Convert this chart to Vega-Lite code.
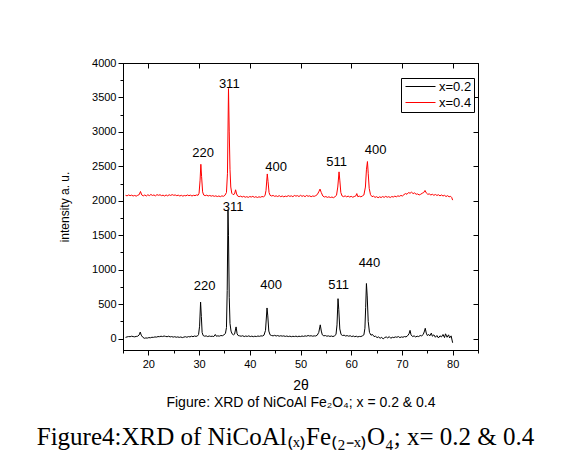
{
"$schema": "https://vega.github.io/schema/vega-lite/v6.json",
"width": 355, "height": 287,
"autosize": {"type": "none"},
"padding": {"left": 123, "top": 63, "right": 92, "bottom": 122},
"background": "white",
"config": {
 "view": {"stroke": "black", "strokeWidth": 1},
 "font": "Liberation Sans",
 "axis": {"grid": false, "domainColor": "black", "tickColor": "black", "labelColor": "black", "titleColor": "black", "labelFont": "Liberation Sans", "titleFont": "Liberation Sans", "labelFontSize": 11, "titleFontWeight": "normal", "domainWidth": 1, "tickWidth": 1}
},
"title": {"text": "Figure4:XRD of NiCoAl₍ₓ₎Fe₍₂₋ₓ₎O₄;  x= 0.2 & 0.4", "orient": "bottom", "anchor": "middle", "font": "Liberation Serif", "fontSize": 25, "fontWeight": "normal", "color": "black", "offset": 16, "dx": -15},
"datasets": {
 "a": [
  {"t":15.5,"i":18},{"t":15.8,"i":25},{"t":16.1,"i":30},{"t":16.4,"i":28},{"t":16.7,"i":35},{"t":17.0,"i":30},{"t":17.3,"i":26},{"t":17.6,"i":32},{"t":17.9,"i":35},{"t":18.2,"i":55},{"t":18.4,"i":95},{"t":18.6,"i":50},{"t":18.9,"i":20},{"t":19.2,"i":5},{"t":19.5,"i":10},{"t":19.8,"i":8},{"t":20.1,"i":15},{"t":20.4,"i":12},{"t":20.7,"i":20},{"t":21.0,"i":18},{"t":21.3,"i":25},{"t":21.6,"i":22},{"t":21.9,"i":30},{"t":22.2,"i":28},{"t":22.5,"i":35},{"t":22.8,"i":30},{"t":23.1,"i":38},{"t":23.4,"i":32},{"t":23.7,"i":28},{"t":24.0,"i":35},{"t":24.3,"i":25},{"t":24.6,"i":30},{"t":24.9,"i":22},{"t":25.2,"i":28},{"t":25.5,"i":20},{"t":25.8,"i":25},{"t":26.1,"i":18},{"t":26.4,"i":24},{"t":26.7,"i":15},{"t":27.0,"i":22},{"t":27.3,"i":28},{"t":27.6,"i":20},{"t":27.9,"i":30},{"t":28.2,"i":25},{"t":28.5,"i":35},{"t":28.8,"i":28},{"t":29.1,"i":38},{"t":29.4,"i":32},{"t":29.7,"i":40},{"t":29.9,"i":60},{"t":30.1,"i":180},{"t":30.3,"i":530},{"t":30.45,"i":320},{"t":30.6,"i":90},{"t":30.8,"i":45},{"t":31.1,"i":35},{"t":31.4,"i":40},{"t":31.7,"i":30},{"t":32.0,"i":38},{"t":32.3,"i":32},{"t":32.6,"i":35},{"t":32.9,"i":30},{"t":33.2,"i":60},{"t":33.4,"i":35},{"t":33.7,"i":40},{"t":34.0,"i":36},{"t":34.3,"i":45},{"t":34.6,"i":42},{"t":34.9,"i":55},{"t":35.2,"i":75},{"t":35.4,"i":160},{"t":35.55,"i":700},{"t":35.7,"i":1870},{"t":35.8,"i":1500},{"t":35.95,"i":600},{"t":36.1,"i":220},{"t":36.3,"i":110},{"t":36.5,"i":70},{"t":36.8,"i":55},{"t":37.0,"i":65},{"t":37.3,"i":170},{"t":37.5,"i":70},{"t":37.7,"i":45},{"t":38.0,"i":40},{"t":38.3,"i":35},{"t":38.6,"i":42},{"t":38.9,"i":30},{"t":39.2,"i":38},{"t":39.5,"i":32},{"t":39.8,"i":40},{"t":40.1,"i":30},{"t":40.4,"i":36},{"t":40.7,"i":28},{"t":41.0,"i":35},{"t":41.3,"i":30},{"t":41.6,"i":38},{"t":41.9,"i":33},{"t":42.2,"i":40},{"t":42.5,"i":38},{"t":42.8,"i":50},{"t":43.1,"i":120},{"t":43.4,"i":445},{"t":43.55,"i":330},{"t":43.75,"i":110},{"t":44.0,"i":55},{"t":44.3,"i":45},{"t":44.6,"i":40},{"t":44.9,"i":48},{"t":45.2,"i":38},{"t":45.5,"i":45},{"t":45.8,"i":35},{"t":46.1,"i":42},{"t":46.4,"i":36},{"t":46.7,"i":40},{"t":47.0,"i":32},{"t":47.3,"i":38},{"t":47.6,"i":30},{"t":47.9,"i":36},{"t":48.2,"i":28},{"t":48.5,"i":34},{"t":48.8,"i":30},{"t":49.1,"i":36},{"t":49.4,"i":28},{"t":49.7,"i":35},{"t":50.0,"i":30},{"t":50.3,"i":38},{"t":50.6,"i":32},{"t":50.9,"i":40},{"t":51.2,"i":35},{"t":51.5,"i":45},{"t":51.8,"i":38},{"t":52.1,"i":42},{"t":52.4,"i":35},{"t":52.7,"i":40},{"t":53.0,"i":38},{"t":53.3,"i":50},{"t":53.6,"i":90},{"t":53.9,"i":200},{"t":54.1,"i":110},{"t":54.3,"i":55},{"t":54.6,"i":40},{"t":54.9,"i":45},{"t":55.2,"i":35},{"t":55.5,"i":40},{"t":55.8,"i":32},{"t":56.1,"i":38},{"t":56.4,"i":30},{"t":56.7,"i":40},{"t":57.0,"i":60},{"t":57.2,"i":200},{"t":57.4,"i":580},{"t":57.55,"i":420},{"t":57.75,"i":140},{"t":58.0,"i":60},{"t":58.3,"i":45},{"t":58.6,"i":50},{"t":58.9,"i":38},{"t":59.2,"i":44},{"t":59.5,"i":35},{"t":59.8,"i":42},{"t":60.1,"i":30},{"t":60.4,"i":38},{"t":60.7,"i":28},{"t":61.0,"i":35},{"t":61.3,"i":25},{"t":61.6,"i":32},{"t":61.9,"i":30},{"t":62.2,"i":40},{"t":62.5,"i":55},{"t":62.7,"i":150},{"t":62.85,"i":450},{"t":63.0,"i":800},{"t":63.15,"i":620},{"t":63.35,"i":250},{"t":63.6,"i":90},{"t":63.9,"i":50},{"t":64.2,"i":60},{"t":64.5,"i":30},{"t":64.8,"i":35},{"t":65.1,"i":15},{"t":65.4,"i":25},{"t":65.7,"i":5},{"t":66.0,"i":20},{"t":66.3,"i":-5},{"t":66.6,"i":15},{"t":66.9,"i":25},{"t":67.2,"i":10},{"t":67.5,"i":30},{"t":67.8,"i":5},{"t":68.1,"i":20},{"t":68.4,"i":15},{"t":68.7,"i":25},{"t":69.0,"i":20},{"t":69.3,"i":30},{"t":69.6,"i":15},{"t":69.9,"i":25},{"t":70.2,"i":20},{"t":70.5,"i":30},{"t":70.8,"i":25},{"t":71.1,"i":40},{"t":71.4,"i":70},{"t":71.6,"i":120},{"t":71.8,"i":55},{"t":72.1,"i":30},{"t":72.4,"i":40},{"t":72.7,"i":25},{"t":73.0,"i":35},{"t":73.3,"i":30},{"t":73.6,"i":45},{"t":73.9,"i":40},{"t":74.2,"i":60},{"t":74.45,"i":110},{"t":74.6,"i":150},{"t":74.8,"i":80},{"t":75.0,"i":45},{"t":75.3,"i":60},{"t":75.5,"i":40},{"t":75.8,"i":80},{"t":76.0,"i":35},{"t":76.3,"i":55},{"t":76.6,"i":20},{"t":76.9,"i":45},{"t":77.2,"i":10},{"t":77.5,"i":40},{"t":77.8,"i":25},{"t":78.1,"i":60},{"t":78.4,"i":15},{"t":78.6,"i":70},{"t":78.9,"i":20},{"t":79.2,"i":55},{"t":79.4,"i":10},{"t":79.7,"i":40},{"t":80.0,"i":-60}
 ],
 "b": [
  {"t":15.5,"i":2080},{"t":15.8,"i":2072},{"t":16.1,"i":2085},{"t":16.4,"i":2075},{"t":16.7,"i":2082},{"t":17.0,"i":2070},{"t":17.3,"i":2078},{"t":17.6,"i":2068},{"t":17.9,"i":2080},{"t":18.2,"i":2090},{"t":18.45,"i":2135},{"t":18.7,"i":2085},{"t":19.0,"i":2072},{"t":19.3,"i":2085},{"t":19.6,"i":2070},{"t":19.9,"i":2088},{"t":20.2,"i":2075},{"t":20.5,"i":2092},{"t":20.8,"i":2078},{"t":21.1,"i":2085},{"t":21.4,"i":2072},{"t":21.7,"i":2090},{"t":22.0,"i":2080},{"t":22.3,"i":2088},{"t":22.6,"i":2075},{"t":22.9,"i":2082},{"t":23.2,"i":2070},{"t":23.5,"i":2085},{"t":23.8,"i":2072},{"t":24.1,"i":2088},{"t":24.4,"i":2078},{"t":24.7,"i":2090},{"t":25.0,"i":2080},{"t":25.3,"i":2085},{"t":25.6,"i":2075},{"t":25.9,"i":2082},{"t":26.2,"i":2070},{"t":26.5,"i":2080},{"t":26.8,"i":2068},{"t":27.1,"i":2078},{"t":27.4,"i":2072},{"t":27.7,"i":2085},{"t":28.0,"i":2075},{"t":28.3,"i":2082},{"t":28.6,"i":2070},{"t":28.9,"i":2080},{"t":29.2,"i":2075},{"t":29.5,"i":2085},{"t":29.8,"i":2080},{"t":30.0,"i":2110},{"t":30.2,"i":2300},{"t":30.35,"i":2530},{"t":30.5,"i":2350},{"t":30.7,"i":2130},{"t":30.9,"i":2085},{"t":31.2,"i":2075},{"t":31.5,"i":2082},{"t":31.8,"i":2070},{"t":32.1,"i":2078},{"t":32.4,"i":2068},{"t":32.7,"i":2075},{"t":33.0,"i":2065},{"t":33.3,"i":2072},{"t":33.6,"i":2062},{"t":33.9,"i":2070},{"t":34.2,"i":2060},{"t":34.5,"i":2072},{"t":34.8,"i":2065},{"t":35.1,"i":2080},{"t":35.4,"i":2120},{"t":35.6,"i":2400},{"t":35.8,"i":3630},{"t":35.95,"i":3000},{"t":36.1,"i":2450},{"t":36.25,"i":2200},{"t":36.45,"i":2110},{"t":36.7,"i":2090},{"t":37.0,"i":2100},{"t":37.2,"i":2160},{"t":37.4,"i":2100},{"t":37.6,"i":2070},{"t":37.9,"i":2060},{"t":38.2,"i":2068},{"t":38.5,"i":2055},{"t":38.8,"i":2065},{"t":39.1,"i":2052},{"t":39.4,"i":2060},{"t":39.7,"i":2050},{"t":40.0,"i":2062},{"t":40.3,"i":2055},{"t":40.6,"i":2065},{"t":40.9,"i":2050},{"t":41.2,"i":2060},{"t":41.5,"i":2048},{"t":41.8,"i":2058},{"t":42.1,"i":2052},{"t":42.4,"i":2062},{"t":42.7,"i":2058},{"t":43.0,"i":2075},{"t":43.2,"i":2150},{"t":43.45,"i":2390},{"t":43.6,"i":2280},{"t":43.8,"i":2120},{"t":44.0,"i":2080},{"t":44.3,"i":2070},{"t":44.6,"i":2078},{"t":44.9,"i":2065},{"t":45.2,"i":2072},{"t":45.5,"i":2062},{"t":45.8,"i":2075},{"t":46.1,"i":2060},{"t":46.4,"i":2070},{"t":46.7,"i":2058},{"t":47.0,"i":2068},{"t":47.3,"i":2062},{"t":47.6,"i":2075},{"t":47.9,"i":2065},{"t":48.2,"i":2072},{"t":48.5,"i":2060},{"t":48.8,"i":2078},{"t":49.1,"i":2068},{"t":49.4,"i":2075},{"t":49.7,"i":2062},{"t":50.0,"i":2080},{"t":50.3,"i":2065},{"t":50.6,"i":2075},{"t":50.9,"i":2060},{"t":51.2,"i":2078},{"t":51.5,"i":2066},{"t":51.8,"i":2072},{"t":52.1,"i":2060},{"t":52.4,"i":2070},{"t":52.7,"i":2065},{"t":53.0,"i":2075},{"t":53.3,"i":2090},{"t":53.6,"i":2130},{"t":53.85,"i":2170},{"t":54.1,"i":2120},{"t":54.4,"i":2070},{"t":54.7,"i":2055},{"t":55.0,"i":2062},{"t":55.3,"i":2050},{"t":55.6,"i":2058},{"t":55.9,"i":2048},{"t":56.2,"i":2055},{"t":56.5,"i":2045},{"t":56.8,"i":2060},{"t":57.1,"i":2080},{"t":57.35,"i":2200},{"t":57.6,"i":2420},{"t":57.75,"i":2300},{"t":57.95,"i":2120},{"t":58.2,"i":2070},{"t":58.5,"i":2060},{"t":58.8,"i":2072},{"t":59.1,"i":2058},{"t":59.4,"i":2068},{"t":59.7,"i":2055},{"t":60.0,"i":2065},{"t":60.3,"i":2052},{"t":60.6,"i":2062},{"t":60.9,"i":2070},{"t":61.1,"i":2105},{"t":61.3,"i":2060},{"t":61.6,"i":2068},{"t":61.9,"i":2058},{"t":62.2,"i":2070},{"t":62.5,"i":2085},{"t":62.8,"i":2200},{"t":63.0,"i":2450},{"t":63.2,"i":2570},{"t":63.35,"i":2400},{"t":63.55,"i":2180},{"t":63.8,"i":2090},{"t":64.1,"i":2060},{"t":64.4,"i":2068},{"t":64.7,"i":2050},{"t":65.0,"i":2060},{"t":65.3,"i":2045},{"t":65.6,"i":2058},{"t":65.9,"i":2048},{"t":66.2,"i":2062},{"t":66.5,"i":2050},{"t":66.8,"i":2065},{"t":67.1,"i":2052},{"t":67.4,"i":2060},{"t":67.7,"i":2048},{"t":68.0,"i":2062},{"t":68.3,"i":2055},{"t":68.6,"i":2068},{"t":68.9,"i":2058},{"t":69.2,"i":2072},{"t":69.5,"i":2065},{"t":69.8,"i":2078},{"t":70.1,"i":2070},{"t":70.4,"i":2090},{"t":70.7,"i":2105},{"t":71.0,"i":2095},{"t":71.3,"i":2120},{"t":71.6,"i":2110},{"t":71.9,"i":2125},{"t":72.2,"i":2105},{"t":72.5,"i":2115},{"t":72.8,"i":2095},{"t":73.1,"i":2100},{"t":73.4,"i":2085},{"t":73.7,"i":2095},{"t":74.0,"i":2110},{"t":74.3,"i":2120},{"t":74.55,"i":2150},{"t":74.8,"i":2115},{"t":75.1,"i":2095},{"t":75.4,"i":2100},{"t":75.7,"i":2085},{"t":76.0,"i":2095},{"t":76.3,"i":2080},{"t":76.6,"i":2092},{"t":76.9,"i":2078},{"t":77.2,"i":2088},{"t":77.5,"i":2072},{"t":77.8,"i":2085},{"t":78.1,"i":2070},{"t":78.4,"i":2080},{"t":78.7,"i":2062},{"t":79.0,"i":2075},{"t":79.3,"i":2058},{"t":79.6,"i":2065},{"t":79.8,"i":2050},{"t":80.0,"i":2010}
 ],
 "p": [
  {"t":35.95,"i":3700,"l":"311"},{"t":30.8,"i":2697,"l":"220"},{"t":45.2,"i":2494,"l":"400"},{"t":57.1,"i":2566,"l":"511"},{"t":64.8,"i":2735,"l":"400"},
  {"t":36.7,"i":1907,"l":"311"},{"t":31.1,"i":770,"l":"220"},{"t":44.2,"i":785,"l":"400"},{"t":57.5,"i":785,"l":"511"},{"t":63.6,"i":1098,"l":"440"}
 ]
},
"layer": [
 {
  "data": {"name": "a"},
  "mark": {"type": "line", "strokeWidth": 1},
  "encoding": {
   "x": {"field": "t", "type": "quantitative", "scale": {"domain": [15, 85], "nice": false, "zero": false},
    "axis": {"orient": "bottom", "values": [20,30,40,50,60,70,80], "tickSize": 5, "labelPadding": 3, "title": ["2θ", "Figure: XRD of NiCoAl Fe₂O₄; x = 0.2 & 0.4"], "titleFontSize": 14, "titleLineHeight": 17, "titlePadding": 9}},
   "y": {"field": "i", "type": "quantitative", "scale": {"domain": [-165, 4000], "nice": false, "zero": false},
    "axis": {"orient": "left", "values": [0,500,1000,1500,2000,2500,3000,3500,4000], "format": "d", "tickSize": 5, "labelPadding": 2, "title": "intensity a. u.", "titleFontSize": 12, "titlePadding": 20}},
   "color": {"datum": "x=0.2", "type": "nominal", "scale": {"domain": ["x=0.2", "x=0.4"], "range": ["#000000", "#ff0000"]},
    "legend": {"title": null, "orient": "none", "legendX": 278, "legendY": 15, "symbolType": "M-1,0H6.5", "symbolSize": 64, "symbolStrokeWidth": 1, "labelFont": "Liberation Sans", "labelFontSize": 13, "labelColor": "black", "labelOffset": 23, "strokeColor": "black", "fillColor": "white", "padding": 2, "rowPadding": 2}}
  }
 },
 {
  "data": {"name": "b"},
  "mark": {"type": "line", "strokeWidth": 1},
  "encoding": {
   "x": {"field": "t", "type": "quantitative", "scale": {"domain": [15, 85], "nice": false, "zero": false},
    "axis": {"orient": "bottom", "values": [15,25,35,45,55,65,75,85], "tickSize": 3, "labels": false, "title": null}},
   "y": {"field": "i", "type": "quantitative", "scale": {"domain": [-165, 4000], "nice": false, "zero": false},
    "axis": {"orient": "left", "values": [250,750,1250,1750,2250,2750,3250,3750], "tickSize": 3, "labels": false, "title": null}},
   "color": {"datum": "x=0.4", "type": "nominal"}
  }
 },
 {
  "data": {"name": "p"},
  "mark": {"type": "text", "fontSize": 13, "font": "Liberation Sans", "color": "black"},
  "encoding": {
   "x": {"field": "t", "type": "quantitative", "scale": {"domain": [15, 85], "nice": false, "zero": false},
    "axis": {"orient": "top", "values": [20,30,40,50,60,70,80], "tickSize": -5, "labels": false, "title": null}},
   "y": {"field": "i", "type": "quantitative", "scale": {"domain": [-165, 4000], "nice": false, "zero": false},
    "axis": {"orient": "right", "values": [0,500,1000,1500,2000,2500,3000,3500,4000], "tickSize": -5, "labels": false, "title": null}},
   "text": {"field": "l"}
  }
 }
],
"resolve": {"axis": {"x": "independent", "y": "independent"}}
}
